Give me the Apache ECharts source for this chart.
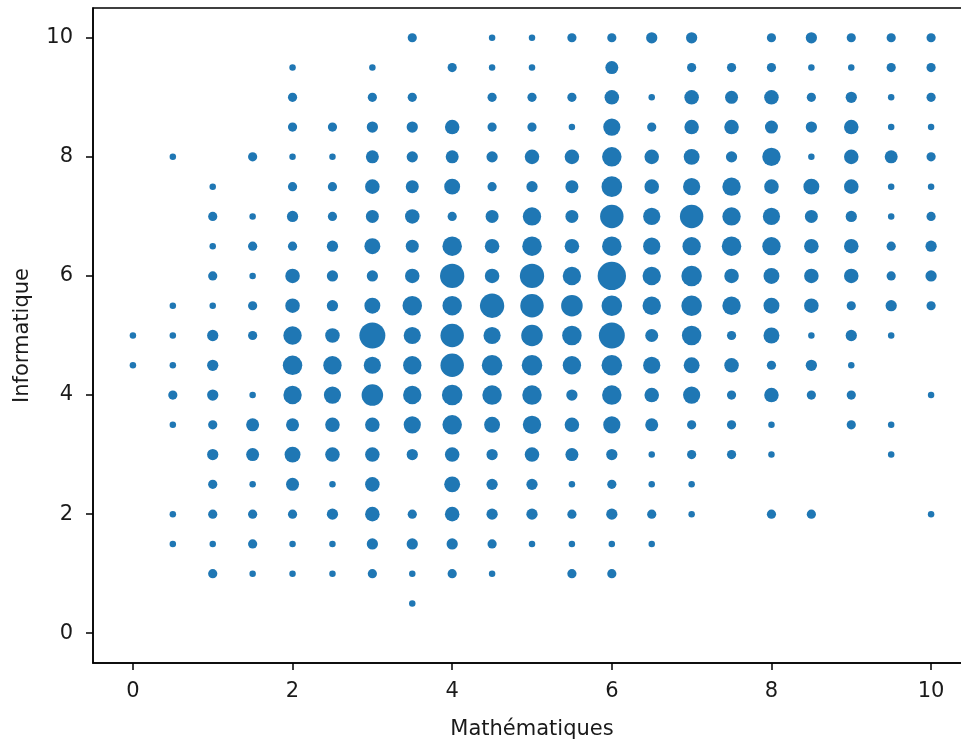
<!DOCTYPE html>
<html>
<head>
<meta charset="utf-8">
<script src="https://cdn.jsdelivr.net/npm/echarts@6/dist/echarts.min.js"></script>
<style>
html,body{margin:0;padding:0;background:#fff;}
#chart{width:961px;height:744px;}
</style>
</head>
<body>
<div id="chart"></div>
<script>
// Notes en mathématiques (x), notes en informatique (y), effectif (taille du point)
const mathematiques = [
  0,0,
  0.5,0.5,0.5,0.5,0.5,0.5,0.5,0.5,
  1,1,1,1,1,1,1,1,1,1,1,1,1,1,
  1.5,1.5,1.5,1.5,1.5,1.5,1.5,1.5,1.5,1.5,1.5,1.5,1.5,
  2,2,2,2,2,2,2,2,2,2,2,2,2,2,2,2,2,2,
  2.5,2.5,2.5,2.5,2.5,2.5,2.5,2.5,2.5,2.5,2.5,2.5,2.5,2.5,2.5,2.5,
  3,3,3,3,3,3,3,3,3,3,3,3,3,3,3,3,3,3,
  3.5,3.5,3.5,3.5,3.5,3.5,3.5,3.5,3.5,3.5,3.5,3.5,3.5,3.5,3.5,3.5,3.5,3.5,
  4,4,4,4,4,4,4,4,4,4,4,4,4,4,4,4,4,
  4.5,4.5,4.5,4.5,4.5,4.5,4.5,4.5,4.5,4.5,4.5,4.5,4.5,4.5,4.5,4.5,4.5,4.5,4.5,
  5,5,5,5,5,5,5,5,5,5,5,5,5,5,5,5,5,5,
  5.5,5.5,5.5,5.5,5.5,5.5,5.5,5.5,5.5,5.5,5.5,5.5,5.5,5.5,5.5,5.5,5.5,5.5,
  6,6,6,6,6,6,6,6,6,6,6,6,6,6,6,6,6,6,6,
  6.5,6.5,6.5,6.5,6.5,6.5,6.5,6.5,6.5,6.5,6.5,6.5,6.5,6.5,6.5,6.5,6.5,
  7,7,7,7,7,7,7,7,7,7,7,7,7,7,7,7,7,
  7.5,7.5,7.5,7.5,7.5,7.5,7.5,7.5,7.5,7.5,7.5,7.5,7.5,7.5,
  8,8,8,8,8,8,8,8,8,8,8,8,8,8,8,8,
  8.5,8.5,8.5,8.5,8.5,8.5,8.5,8.5,8.5,8.5,8.5,8.5,8.5,8.5,
  9,9,9,9,9,9,9,9,9,9,9,9,9,9,
  9.5,9.5,9.5,9.5,9.5,9.5,9.5,9.5,9.5,9.5,9.5,9.5,9.5,
  10,10,10,10,10,10,10,10,10,10,10,10
];
const informatique = [
  5,4.5,
  8,5.5,5,4.5,4,3.5,2,1.5,
  7.5,7,6.5,6,5.5,5,4.5,4,3.5,3,2.5,2,1.5,1,
  8,7,6.5,6,5.5,5,4,3.5,3,2.5,2,1.5,1,
  9.5,9,8.5,8,7.5,7,6.5,6,5.5,5,4.5,4,3.5,3,2.5,2,1.5,1,
  8.5,8,7.5,7,6.5,6,5.5,5,4.5,4,3.5,3,2.5,2,1.5,1,
  9.5,9,8.5,8,7.5,7,6.5,6,5.5,5,4.5,4,3.5,3,2.5,2,1.5,1,
  10,9,8.5,8,7.5,7,6.5,6,5.5,5,4.5,4,3.5,3,2,1.5,1,0.5,
  9.5,8.5,8,7.5,7,6.5,6,5.5,5,4.5,4,3.5,3,2.5,2,1.5,1,
  10,9.5,9,8.5,8,7.5,7,6.5,6,5.5,5,4.5,4,3.5,3,2.5,2,1.5,1,
  10,9.5,9,8.5,8,7.5,7,6.5,6,5.5,5,4.5,4,3.5,3,2.5,2,1.5,
  10,9,8.5,8,7.5,7,6.5,6,5.5,5,4.5,4,3.5,3,2.5,2,1.5,1,
  10,9.5,9,8.5,8,7.5,7,6.5,6,5.5,5,4.5,4,3.5,3,2.5,2,1.5,1,
  10,9,8.5,8,7.5,7,6.5,6,5.5,5,4.5,4,3.5,3,2.5,2,1.5,
  10,9.5,9,8.5,8,7.5,7,6.5,6,5.5,5,4.5,4,3.5,3,2.5,2,
  9.5,9,8.5,8,7.5,7,6.5,6,5.5,5,4.5,4,3.5,3,
  10,9.5,9,8.5,8,7.5,7,6.5,6,5.5,5,4.5,4,3.5,3,2,
  10,9.5,9,8.5,8,7.5,7,6.5,6,5.5,5,4.5,4,2,
  10,9.5,9,8.5,8,7.5,7,6.5,6,5.5,5,4.5,4,3.5,
  10,9.5,9,8.5,8,7.5,7,6.5,6,5.5,5,3.5,3,
  10,9.5,9,8.5,8,7.5,7,6.5,6,5.5,4,2
];
const effectifs = [
  1,1,
  1,1,1,1,2,1,1,1,
  1,2,1,2,1,3,3,3,2,3,2,2,1,2,
  2,1,2,1,2,2,1,4,4,1,2,2,1,
  1,2,2,1,2,3,2,5,5,8,9,8,4,6,4,2,1,1,
  2,1,2,2,3,3,3,5,8,7,5,5,1,3,1,1,
  1,2,3,4,5,4,6,3,6,16,7,11,5,5,5,5,3,2,
  2,2,3,3,4,5,4,5,9,7,8,8,7,3,2,3,1,1,
  2,5,4,6,2,9,14,9,13,13,10,9,5,6,5,3,2,
  1,1,2,2,3,2,4,5,5,14,7,10,9,6,3,3,3,2,1,
  1,1,2,2,5,3,8,9,14,13,11,10,9,8,5,3,3,1,
  2,2,1,5,4,4,5,8,11,9,8,3,5,4,1,2,1,2,
  2,4,5,7,9,10,13,9,19,10,16,10,9,7,3,2,3,1,2,
  3,1,2,5,5,7,7,8,8,4,7,5,4,1,1,2,1,
  3,2,5,5,6,7,13,8,10,10,9,6,7,2,2,1,1,
  2,4,5,3,8,8,9,5,8,2,5,2,2,2,
  2,2,5,4,8,5,7,8,6,6,6,2,5,1,1,2,
  3,1,2,3,1,6,4,5,5,5,1,3,2,2,
  2,1,3,5,5,5,3,5,5,2,3,1,2,2,
  2,2,1,1,4,1,1,2,2,3,1,1,1,
  2,2,2,1,2,1,2,3,3,2,1,1
];
const xTicks = [0, 2, 4, 6, 8, 10];
const yTicks = [0, 2, 4, 6, 8, 10];
const xName = 'Mathématiques';
const yName = 'Informatique';

const points = mathematiques.map((m, i) => [m, informatique[i], effectifs[i]]);

const FONT = 'DejaVu Sans';
const TXT = '#1a1a1a';

const chart = echarts.init(document.getElementById('chart'), null, {renderer: 'canvas'});
chart.setOption({
  animation: false,
  backgroundColor: '#ffffff',
  grid: {
    left: 93, top: 8, width: 878, height: 655,
    outerBoundsMode: 'none', containLabel: false,
    show: true, borderColor: '#000', borderWidth: 1.5, backgroundColor: 'transparent'
  },
  xAxis: {
    type: 'value', min: -0.5, max: 10.5,
    name: xName, nameLocation: 'middle', nameGap: 56,
    nameTextStyle: {fontFamily: FONT, fontSize: 21, color: TXT},
    axisLine: {show: true, onZero: false, lineStyle: {color: '#000', width: 1.5}},
    axisTick: {show: true, length: 7, lineStyle: {color: '#000', width: 1.5}, customValues: xTicks},
    axisLabel: {fontFamily: FONT, fontSize: 21, color: TXT, margin: 18, customValues: xTicks},
    splitLine: {show: false}
  },
  yAxis: {
    type: 'value', min: -0.5, max: 10.5,
    name: yName, nameLocation: 'middle', nameGap: 60,
    nameTextStyle: {fontFamily: FONT, fontSize: 21, color: TXT},
    axisLine: {show: true, onZero: false, lineStyle: {color: '#000', width: 1.5}},
    axisTick: {show: true, length: 7, lineStyle: {color: '#000', width: 1.5}, customValues: yTicks},
    axisLabel: {fontFamily: FONT, fontSize: 21, color: TXT, margin: 20, customValues: yTicks},
    splitLine: {show: false}
  },
  series: [{
    type: 'scatter',
    data: points,
    symbol: 'circle',
    symbolSize: v => 6.5 * Math.sqrt(v[2]),
    itemStyle: {color: '#1f77b4', opacity: 1}
  }]
});
</script>
</body>
</html>
